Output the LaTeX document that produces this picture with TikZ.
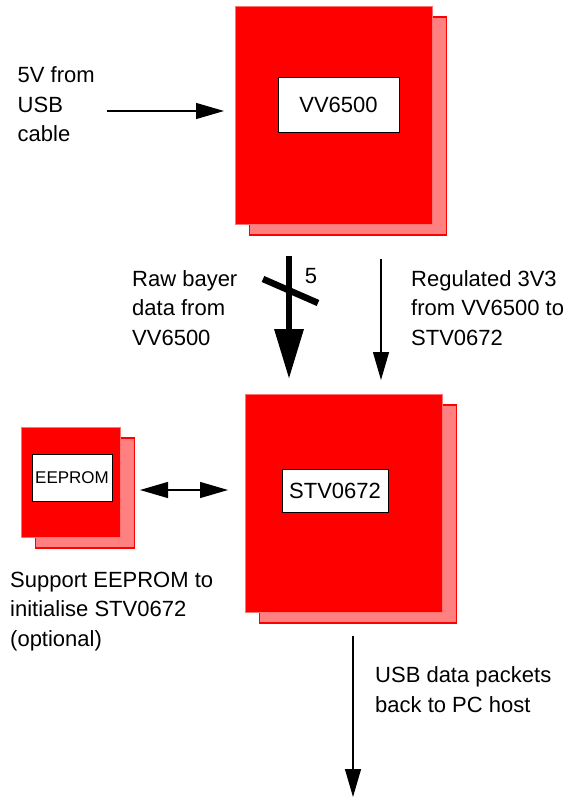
\documentclass[tikz,border=0pt]{standalone}
\usepackage{fontspec}
\setmainfont{Liberation Sans}
\usetikzlibrary{arrows.meta,shadows}

\begin{document}
\begin{tikzpicture}[x=1pt,y=-1pt,
  chip/.style={fill=red, draw=red!55, line width=0.8pt, inner sep=0pt, outer sep=0pt,
    general shadow={fill=red!50, draw=red, line width=1.2pt, shadow xshift=14.5pt, shadow yshift=-11pt}},
  chipname/.style={fill=white, draw=black, line width=1pt, inner sep=0pt, outer sep=0pt,
    font=\fontsize{22}{26}\selectfont},
  note/.style={font=\fontsize{22}{29.5}\selectfont, align=left, inner sep=0pt, anchor=base west},
  arr/.style={line width=1.2pt, -{Triangle[length=28pt,width=16pt]}},
  duplex/.style={line width=1.2pt, {Triangle[length=28pt,width=16pt]}-{Triangle[length=28pt,width=16pt]}},
  bus/.style={line width=6.5pt, -{Triangle[length=50pt,width=28pt]}}]
  \useasboundingbox (0,0) rectangle (564,797);

  % chips
  \node[chip, minimum width=197pt, minimum height=218pt] (vv) at (333.5,115) {};
  \node[chipname, minimum width=121pt, minimum height=54pt] (vvname) at (338.5,105) {VV6500};
  \node[chip, minimum width=197pt, minimum height=218pt] (stv) at (343.5,503) {};
  \node[chipname, minimum width=106pt, minimum height=43pt] (stvname) at (335,490.5) {STV0672};
  \node[chip, minimum width=99pt, minimum height=110pt] (eep) at (70.5,482) {};
  \node[chipname, minimum width=80pt, minimum height=47pt, font=\fontsize{17}{20}\selectfont] (eepname) at (72,477.5) {EEPROM};

  % notes (anchored at the baseline of their last line)
  \node[note] (vin) at (17.5,142) {5V from\\USB\\cable};
  \node[note] (rawnote) at (132,345) {Raw bayer\\data from\\VV6500};
  \node[note] (regnote) at (411,345) {Regulated 3V3\\from VV6500 to\\STV0672};
  \node[note] (eepnote) at (10,646) {Support EEPROM to\\initialise STV0672\\(optional)};
  \node[note] (usbnote) at (375,712) {USB data packets\\back to PC host};
  \node[font=\fontsize{22}{26}\selectfont, inner sep=0pt] (buswidth) at (311,276) {5};

  % links
  \coordinate (vinend) at (107,111);
  \coordinate (pchost) at (353,797);
  \draw[arr, shorten >=11pt] (vinend) -- (vinend -| vv.west);
  \draw[bus, shorten <=32pt, shorten >=15pt] ([xshift=-44.5pt]vv.south) -- ([xshift=-44.5pt]vv.south |- stv.north);
  \draw[line width=6.5pt] ([shift={(-70.5,55)}]vv.south) -- ([shift={(-15.5,79)}]vv.south);
  \draw[arr, shorten <=35pt, shorten >=14pt] ([xshift=47.5pt]vv.south) -- ([xshift=47.5pt]vv.south |- stv.north);
  \draw[duplex, shorten <=20pt, shorten >=17pt] ([yshift=-8pt]eep.east) -- ([yshift=-8pt]eep.east -| stv.west);
  \draw[arr, shorten <=24pt] ([xshift=9.5pt]stv.south) -- (pchost);
\end{tikzpicture}
\end{document}
